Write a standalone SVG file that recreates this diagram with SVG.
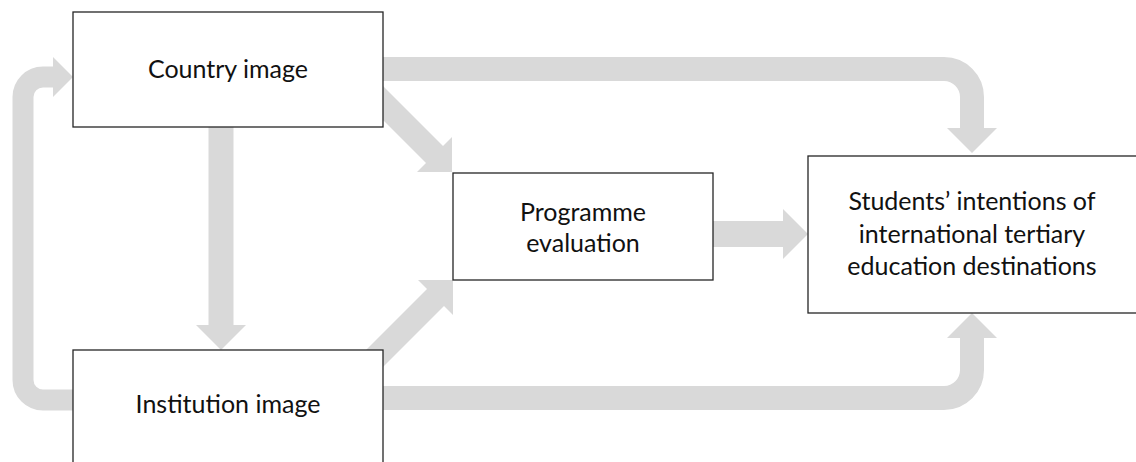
<svg xmlns="http://www.w3.org/2000/svg" width="1136" height="462" viewBox="0 0 1136 462">
  <style>
    .shaft { fill: none; stroke: #d9d9d9; stroke-linecap: butt; stroke-linejoin: round; }
    .head { fill: #d9d9d9; stroke: none; }
    .box { fill: #ffffff; stroke: #262626; stroke-width: 1.3; }
    .label { font-family: Lato, "Liberation Sans", sans-serif; font-size: 25px; fill: #111111; text-anchor: middle; }
  </style>
  <rect width="1136" height="462" fill="#ffffff"/>

  <!-- block arrows, drawn beneath the boxes -->
  <g id="connectors">
    <g id="c-country-students">
      <path class="shaft" stroke-width="24" d="M300,69 H944 A28,28 0 0 1 972,97 V129"/>
      <polygon class="head" points="947,128 997,128 972,153"/>
    </g>
    <g id="c-institution-students">
      <path class="shaft" stroke-width="24" d="M300,398 H944 A28,28 0 0 0 972,370 V337"/>
      <polygon class="head" points="947,338 997,338 972,313"/>
    </g>
    <g id="c-institution-country">
      <path class="shaft" stroke-width="21" d="M100,400 H43 A20,20 0 0 1 23,380 V97 A20,20 0 0 1 43,77 H54"/>
      <polygon class="head" points="53,57 73,77 53,97"/>
    </g>
    <g id="c-country-institution">
      <path class="shaft" stroke-width="25" d="M221,120 V326"/>
      <polygon class="head" points="196,325 246,325 221,350"/>
    </g>
    <g id="c-country-programme">
      <path class="shaft" stroke-width="24" d="M360,80 L435,155"/>
      <polygon class="head" points="417,172 452,137 452,172"/>
    </g>
    <g id="c-institution-programme">
      <path class="shaft" stroke-width="24" d="M360,373 L436,297"/>
      <polygon class="head" points="418,280 453,315 453,280"/>
    </g>
    <g id="c-programme-students">
      <path class="shaft" stroke-width="26" d="M710,234 H784"/>
      <polygon class="head" points="783,209 783,259 808,234"/>
    </g>
  </g>

  <g id="country-image">
    <rect class="box" x="73" y="12" width="310" height="115"/>
    <text class="label" x="228" y="78">Country image</text>
  </g>

  <g id="institution-image">
    <rect class="box" x="73" y="350" width="310" height="120"/>
    <text class="label" x="228" y="413">Institution image</text>
  </g>

  <g id="programme-evaluation">
    <rect class="box" x="453" y="173" width="260" height="107"/>
    <text class="label" x="583" y="221">Programme</text>
    <text class="label" x="583" y="252">evaluation</text>
  </g>

  <g id="students-intentions">
    <rect class="box" x="808" y="156" width="340" height="157"/>
    <text class="label" x="972" y="210">Students’ intentions of</text>
    <text class="label" x="972" y="243">international tertiary</text>
    <text class="label" x="972" y="275">education destinations</text>
  </g>
</svg>
